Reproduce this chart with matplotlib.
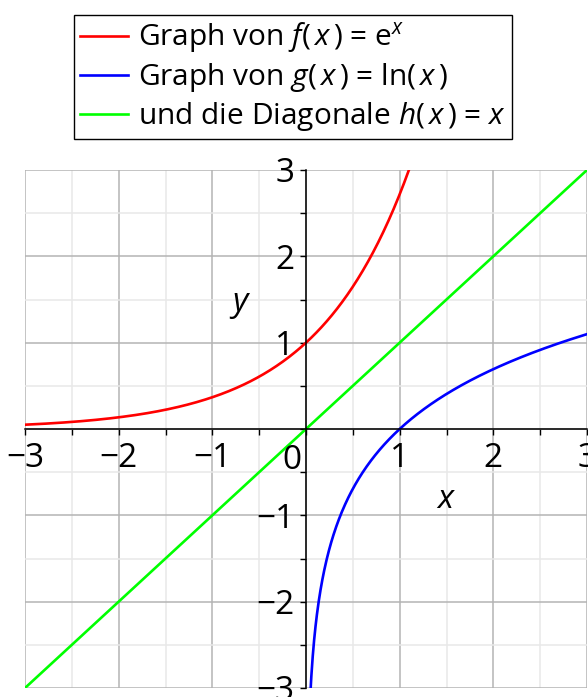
import matplotlib
matplotlib.use('Agg')
import matplotlib.pyplot as plt
from matplotlib import font_manager
import numpy as np

# pick a narrow-ish sans that is installed
installed = {f.name for f in font_manager.fontManager.ttflist}
family = next(f for f in ['Liberation Sans Narrow', 'DejaVu Sans Condensed', 'Open Sans', 'DejaVu Sans'] if f in installed)
plt.rcParams['font.family'] = [family, 'DejaVu Sans']
plt.rcParams['mathtext.fontset'] = 'custom'
plt.rcParams['mathtext.rm'] = family
plt.rcParams['mathtext.it'] = family + ':italic'

# Data
x_exp = np.linspace(-3, np.log(3.05), 300)
x_ln = np.linspace(np.exp(-3.05), 3, 600)
x_diag = np.array([-3, 3])
labels = [r'Graph von $f(\,x\,)$ = e$^{x}$',
          r'Graph von $g(\,x\,)$ = ln$(\,x\,)$',
          r'und die Diagonale $h(\,x\,)$ = $x$']
ticks = [-3, -2, -1, 0, 1, 2, 3]
tick_labels = ['\u22123', '\u22122', '\u22121', '', '1', '2', '3']

fig = plt.figure(figsize=(5.88, 6.97), dpi=100)
ax = fig.add_axes([25/588, 1 - 688/697, 562/588, 518/697])

ax.plot(x_exp, np.exp(x_exp), color='#ff0000', lw=1.9, label=labels[0])
ax.plot(x_ln, np.log(x_ln), color='#0000ff', lw=1.9, label=labels[1])
ax.plot(x_diag, x_diag, color='#00ff00', lw=1.9, label=labels[2])

ax.set_xlim(-3, 3)
ax.set_ylim(-3, 3)
ax.set_xticks(ticks)
ax.set_yticks(ticks)
ax.set_xticklabels(tick_labels)
ax.set_yticklabels(tick_labels)
ax.set_xticks(np.arange(-2.5, 3, 1), minor=True)
ax.set_yticks(np.arange(-2.5, 3, 1), minor=True)

# grid
ax.grid(True, which='major', color='#b4b4b4', lw=1.1)
ax.grid(True, which='minor', color='#e8e8e8', lw=1.1)
ax.set_axisbelow(True)

# axes through the origin
for side in ['top', 'right']:
    ax.spines[side].set_visible(False)
ax.spines['left'].set_position('zero')
ax.spines['bottom'].set_position('zero')
ax.spines['left'].set_linewidth(1.1)
ax.spines['bottom'].set_linewidth(1.1)
ax.tick_params(which='both', direction='out', length=4.5, width=1, labelsize=24)
ax.tick_params(axis='y', pad=4)
ax.tick_params(axis='x', pad=5)
for lbl in ax.get_xticklabels() + ax.get_yticklabels():
    lbl.set_clip_on(False)

ax.text(-0.05, -0.17, '0', fontsize=24, ha='right', va='top')
ax.text(-0.70, 1.44, '$y$', fontsize=24, ha='center', va='center')
ax.text(1.49, -0.82, '$x$', fontsize=24, ha='center', va='center')

fig.legend(loc='center', bbox_to_anchor=(293/588, 1 - 77/697), fontsize=21.5,
           frameon=True, fancybox=False, edgecolor='black', framealpha=1,
           handlelength=1.6, handletextpad=0.35, borderpad=0.2, labelspacing=0.2,
           borderaxespad=0)

fig.savefig('out.png', dpi=100)
